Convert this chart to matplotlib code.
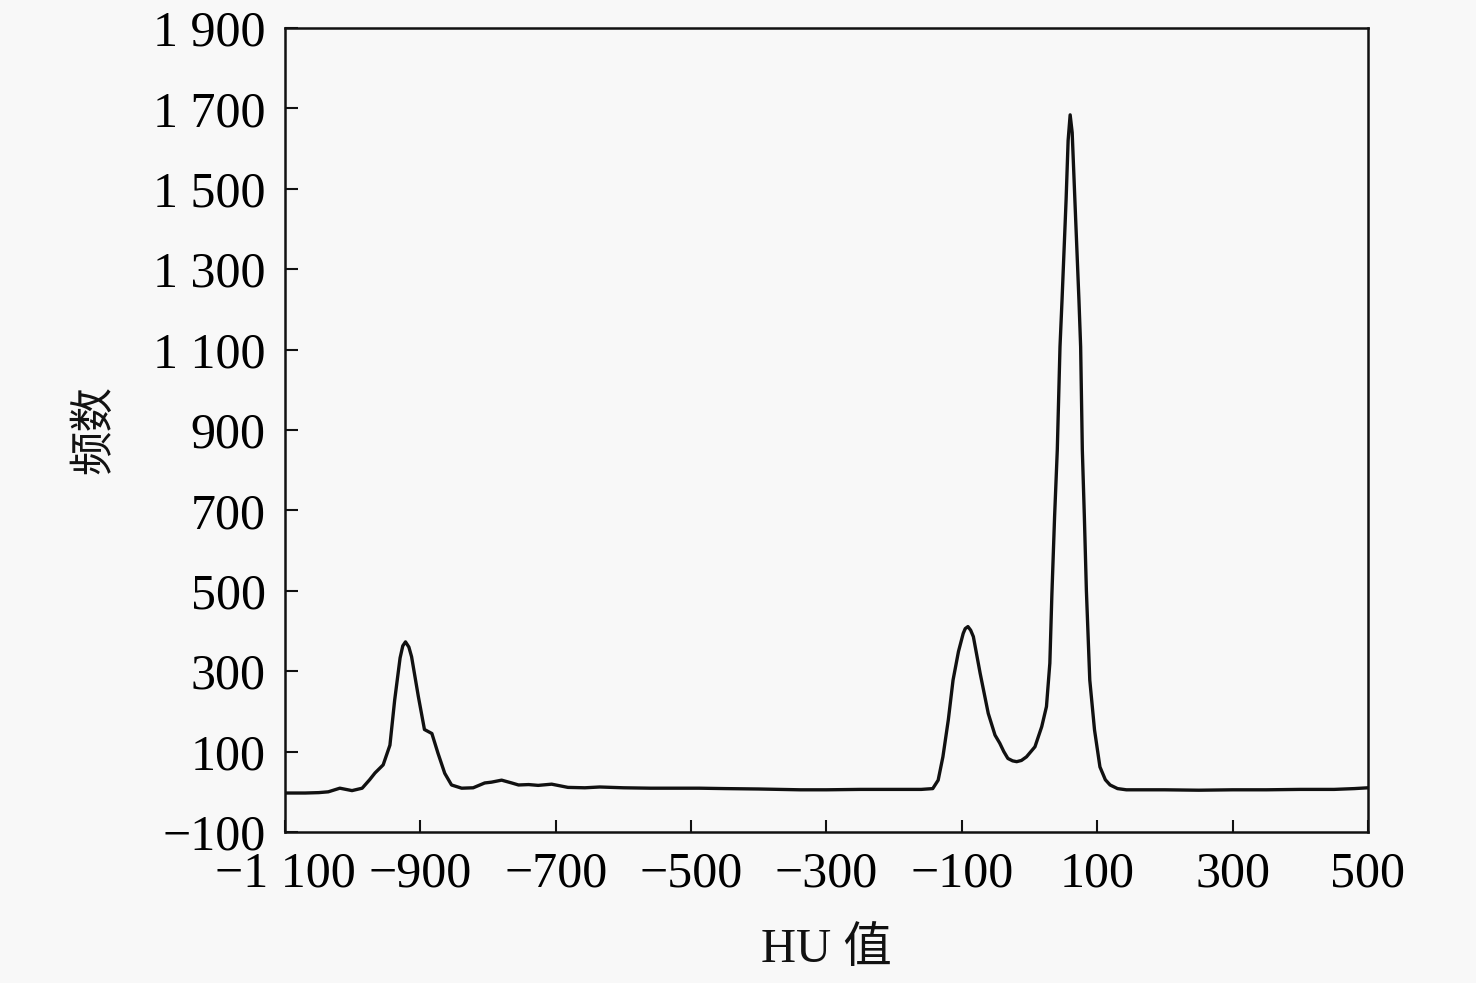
import matplotlib
matplotlib.use('Agg')
import matplotlib.pyplot as plt
import numpy as np

# HU value vs frequency
hu = [-1100, -1070, -1050, -1036, -1019, -1010, -1001, -986, -975, -967,
      -955, -945, -938, -930, -926, -922, -917, -913, -903, -894, -883, -874,
      -864, -854, -839, -822, -805, -795, -780, -765, -755, -740,
      -726, -706, -682, -657, -635, -600, -560, -520, -488, -450,
      -400, -339, -300, -250, -192, -160, -143, -135, -128, -120,
      -113, -105, -98, -95, -91, -87, -83, -73, -61, -51, -44, -38,
      -32, -25, -19, -12, -4.5, 8, 18, 25, 30, 33,
      37, 41, 45, 48, 54, 57, 60, 63, 67, 73,
      75.5, 78, 81, 84, 89, 96, 104, 112, 119, 130,
      143, 200, 250, 300, 350, 400, 450, 480, 500]
freq = [-3, -3, -2, 0, 9, 6, 3, 9, 30, 47,
        67, 116, 228, 333, 363, 373, 360, 336, 237, 155, 145, 96,
        46, 17, 9, 10, 22, 24, 29, 22, 17, 18,
        16, 19, 11, 10, 12, 10, 9, 9, 9, 8,
        7, 5, 5, 6, 6, 6, 8, 29, 87, 179,
        278, 349, 394, 406, 411, 402, 386, 295, 195, 141, 121, 100,
        83, 77, 75, 78, 87, 112, 162, 212, 320, 490,
        684, 850, 1107, 1223, 1472, 1620, 1684, 1640, 1472, 1223,
        1107, 850, 684, 500, 278, 154, 62, 30, 17, 8,
        5, 5, 4, 5, 5, 6, 6, 8, 10]

xticks = [-1100, -900, -700, -500, -300, -100, 100, 300, 500]
xlabels = ['\u22121 100', '\u2212900', '\u2212700', '\u2212500', '\u2212300',
           '\u2212100', '100', '300', '500']
yticks = [-100, 100, 300, 500, 700, 900, 1100, 1300, 1500, 1700, 1900]
ylabels = ['\u2212100', '100', '300', '500', '700', '900', '1 100', '1 300',
           '1 500', '1 700', '1 900']

bg = '#f8f8f8'
serif = ['Liberation Serif', 'DejaVu Serif']
cjk = ['Liberation Serif', 'Noto Sans CJK SC', 'DejaVu Sans']

fig = plt.figure(figsize=(14.76, 9.83), dpi=100, facecolor=bg)
ax = fig.add_axes([0.1931, 0.1536, 0.7337, 0.8179], facecolor=bg)

ax.plot(hu, freq, color='#111111', linewidth=2.4, solid_joinstyle='round')

ax.set_xlim(-1100, 500)
ax.set_ylim(-100, 1900)
ax.set_xticks(xticks)
ax.set_xticklabels(xlabels, fontfamily=serif, fontsize=36)
ax.set_yticks(yticks)
ax.set_yticklabels(ylabels, fontfamily=serif, fontsize=36)
ax.tick_params(direction='in', length=9, width=1.5, color='#111111')
ax.tick_params(axis='x', pad=14)
ax.tick_params(axis='y', pad=14)
for s in ax.spines.values():
    s.set_linewidth(1.8)
    s.set_color('#111111')

fig.text(0.5597, 0.034, 'HU 值', family=cjk, fontsize=35,
         ha='center', va='center', color='#111111')
fig.text(0.064, 0.563, '频数', family=cjk, fontsize=32, rotation=90,
         ha='center', va='center', color='#111111')

fig.savefig('out.png', dpi=100, facecolor=bg)
